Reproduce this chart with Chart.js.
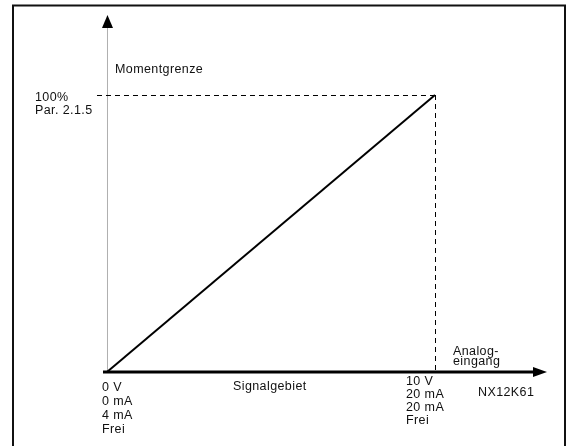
<!DOCTYPE html>
<html lang="de">
<head>
    <meta charset="UTF-8">
    <title>Momentgrenze</title>
    <script src="https://cdn.jsdelivr.net/npm/chart.js"></script>
    <style>
        html, body { margin: 0; padding: 0; background: #fff; }
        canvas { display: block; }
    </style>
</head>
<body>
    <canvas id="torqueChart" width="566" height="446"></canvas>
    <script>
        // Kennlinie: Analogeingang (0..10 V) -> Momentgrenze (0..100 %)
        const signalValues = [0, 10];
        const torqueValues = [0, 100];

        // Achsenbereiche
        const xRange = { min: -3.262, max: 13.994 };
        const yRange = { min: -26.71, max: 134.3 };

        // Beschriftungen
        const startLabels = ['0 V', '0 mA', '4 mA', 'Frei'];
        const endLabels = ['10 V', '20 mA', '20 mA', 'Frei'];
        const limitLabels = ['100%', 'Par. 2.1.5'];
        const yTitle = 'Momentgrenze';
        const xTitle = ['Analog-', 'eingang'];
        const rangeTitle = 'Signalgebiet';
        const figureCode = 'NX12K61';

        const lineData = signalValues.map((v, i) => ({ x: v, y: torqueValues[i] }));

        const diagram = {
            id: 'diagram',
            beforeDatasetsDraw(chart) {
                const ctx = chart.ctx;
                const xs = chart.scales.x, ys = chart.scales.y;
                const x0 = xs.getPixelForValue(signalValues[0]);
                const x1 = xs.getPixelForValue(signalValues[1]);
                const y0 = ys.getPixelForValue(torqueValues[0]);
                const y1 = ys.getPixelForValue(torqueValues[1]);
                ctx.save();

                // Rahmen
                ctx.strokeStyle = '#111';
                ctx.lineWidth = 2;
                ctx.strokeRect(13, 5.5, 552, 446);

                // Y-Achse (grau) mit Pfeil
                ctx.strokeStyle = '#b0b0b0';
                ctx.lineWidth = 1;
                ctx.beginPath();
                ctx.moveTo(x0 + 0.5, y0);
                ctx.lineTo(x0 + 0.5, 27);
                ctx.stroke();
                ctx.fillStyle = '#000';
                ctx.beginPath();
                ctx.moveTo(x0 + 0.5, 15);
                ctx.lineTo(x0 - 5, 28);
                ctx.lineTo(x0 + 6, 28);
                ctx.closePath();
                ctx.fill();

                // Gestrichelte Hilfslinien
                ctx.strokeStyle = '#000';
                ctx.lineWidth = 1;
                ctx.setLineDash([5, 4]);
                ctx.beginPath();
                ctx.moveTo(x0 - 10, Math.round(y1) + 0.5);
                ctx.lineTo(x1, Math.round(y1) + 0.5);
                ctx.moveTo(Math.round(x1) + 0.5, y1);
                ctx.lineTo(Math.round(x1) + 0.5, y0);
                ctx.stroke();
                ctx.setLineDash([]);

                // X-Achse mit Pfeil
                ctx.lineWidth = 3;
                ctx.beginPath();
                ctx.moveTo(x0 - 4, y0);
                ctx.lineTo(536, y0);
                ctx.stroke();
                ctx.beginPath();
                ctx.moveTo(547, y0);
                ctx.lineTo(533, y0 - 5);
                ctx.lineTo(533, y0 + 5);
                ctx.closePath();
                ctx.fill();
                ctx.restore();
            },
            afterDraw(chart) {
                const ctx = chart.ctx;
                const xs = chart.scales.x, ys = chart.scales.y;
                const x0 = xs.getPixelForValue(signalValues[0]);
                const x1 = xs.getPixelForValue(signalValues[1]);
                const y0 = ys.getPixelForValue(torqueValues[0]);
                const y1 = ys.getPixelForValue(torqueValues[1]);
                ctx.save();
                ctx.fillStyle = '#111';
                ctx.font = '12.5px "Liberation Sans", Arial, sans-serif';
                ctx.letterSpacing = '0.4px';
                ctx.textBaseline = 'middle';
                ctx.textAlign = 'left';

                ctx.fillText(yTitle, x0 + 8, y1 - 25);
                limitLabels.forEach((t, i) => ctx.fillText(t, 35, y1 + 3 + i * 12.5));
                startLabels.forEach((t, i) => ctx.fillText(t, x0 - 5, y0 + 16 + i * 13.7));
                endLabels.forEach((t, i) => ctx.fillText(t, x1 - 29, y0 + 10 + i * 12.7));
                xTitle.forEach((t, i) => ctx.fillText(t, x1 + 18, y0 - 20 + i * 10));
                ctx.fillText(rangeTitle, 233, y0 + 15);
                ctx.fillText(figureCode, x1 + 43, y0 + 21);
                ctx.restore();
            }
        };

        const ctx = document.getElementById('torqueChart').getContext('2d');
        new Chart(ctx, {
            type: 'scatter',
            data: {
                datasets: [{
                    data: lineData,
                    showLine: true,
                    borderColor: '#000',
                    borderWidth: 2,
                    pointRadius: 0
                }]
            },
            options: {
                responsive: false,
                animation: false,
                layout: { padding: 0 },
                plugins: {
                    legend: { display: false },
                    tooltip: { enabled: false }
                },
                scales: {
                    x: { type: 'linear', display: false, min: xRange.min, max: xRange.max },
                    y: { type: 'linear', display: false, min: yRange.min, max: yRange.max }
                }
            },
            plugins: [diagram]
        });
    </script>
</body>
</html>
